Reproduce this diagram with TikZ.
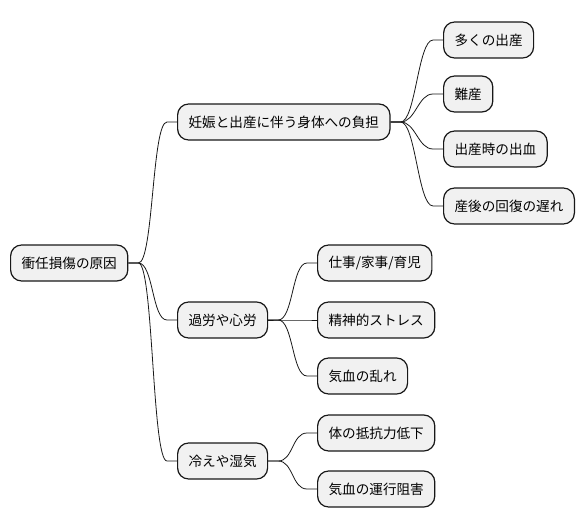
\documentclass[tikz,border=0pt]{standalone}
\usepackage{fontspec}
\setmainfont{Noto Sans CJK JP}
\usepackage{xcolor}
\usetikzlibrary{arrows.meta, positioning}
\definecolor{boxfill}{HTML}{F1F1F1}
\definecolor{boxline}{HTML}{181818}

\begin{document}
\begin{tikzpicture}[
  x=1pt, y=-1pt,
  topic/.style={draw=boxline, fill=boxfill, line width=1.2pt, rounded corners=11pt,
    minimum height=36pt, inner xsep=11pt, anchor=west, font=\fontsize{13.6}{16}\selectfont},
  link/.style={draw=boxline, line width=0.8pt},
]
  \useasboundingbox (0,0) rectangle (586,527);

  % Root
  \node[topic] (root) at (10, 263) {衝任損傷の原因};

  % First level
  \node[topic] (load) at (177, 122) {妊娠と出産に伴う身体への負担};
  \node[topic] (over) at (177, 320) {過労や心労};
  \node[topic] (cold) at (177, 461) {冷えや湿気};

  % Birth burden
  \node[topic] (many)  at (443, 40)  {多くの出産};
  \node[topic] (hard)  at (443, 94)  {難産};
  \node[topic] (blood) at (443, 149) {出産時の出血};
  \node[topic] (slow)  at (443, 206) {産後の回復の遅れ};

  % Overwork
  \node[topic] (work)   at (317, 263) {仕事/家事/育児};
  \node[topic] (stress) at (317, 320) {精神的ストレス};
  \node[topic] (qi)     at (317, 376) {気血の乱れ};

  % Cold and damp
  \node[topic] (resist) at (317, 433) {体の抵抗力低下};
  \node[topic] (flow)   at (317, 489) {気血の運行阻害};

  % Connectors
  \foreach \a/\b in {root/load, root/over, root/cold,
                     load/many, load/hard, load/blood, load/slow,
                     over/work, over/stress, over/qi,
                     cold/resist, cold/flow}
    \draw[link] (\a.east) -- ++(10,0) to[out=0, in=180, distance=15pt] ([xshift=-10pt]\b.west) -- (\b.west);
\end{tikzpicture}
\end{document}
